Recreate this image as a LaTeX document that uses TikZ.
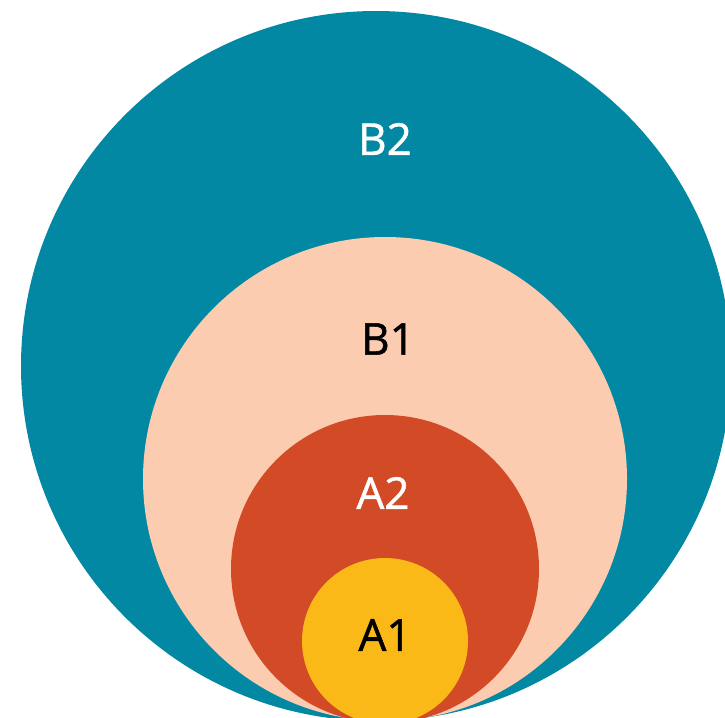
\documentclass[tikz,border=0pt]{standalone}
\usepackage{fontspec}
\setmainfont{Open Sans}
\newfontfamily\lblfont[FakeBold=1.2]{Open Sans}
\definecolor{tealB}{RGB}{2,136,163}
\definecolor{peachB}{RGB}{251,204,176}
\definecolor{redA}{RGB}{210,74,38}
\definecolor{yellowA}{RGB}{251,185,23}
\begin{document}
\begin{tikzpicture}[x=1pt,y=-1pt,
  ring/.style={circle,inner sep=0pt,draw=none},
  lbl/.style={font=\lblfont\fontsize{44}{44}\selectfont,inner sep=0pt,anchor=center}]
\useasboundingbox (0,0) rectangle (725,717);
\clip (0,0) rectangle (725,717);
\fill[white] (0,0) rectangle (725,717);
\node[ring,fill=tealB,minimum size=710pt] (b2) at (376,366) {};
\node[ring,fill=peachB,minimum size=484pt] (b1) at (385,479) {};
\node[ring,fill=redA,minimum size=308pt] (a2) at (385,569) {};
\node[ring,fill=yellowA,minimum size=166pt] (a1) at (385,641) {};
\node[lbl,text=white] (tb2) at (385,139) {B2};
\node[lbl,text=black] (tb1) at (388,339) {B1};
\node[lbl,text=white] (ta2) at (383,493) {A2};
\node[lbl,text=black] (ta1) at (385,635) {A1};
\end{tikzpicture}
\end{document}
